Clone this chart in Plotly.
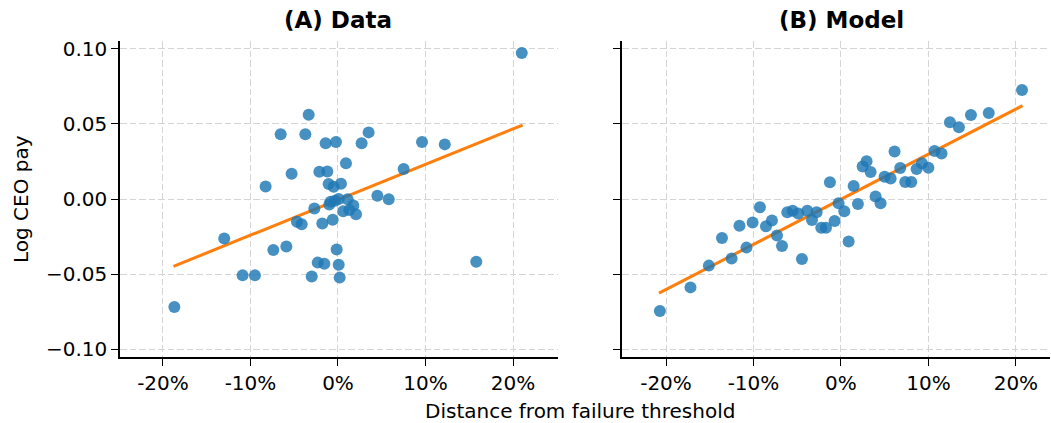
import plotly.graph_objects as go

# ---- data ----
data_x = [21.0, -3.35, -6.55, -3.73, -1.41, -0.23, 2.70, 3.50, 9.6, 12.2, 0.91, 7.5,
          -5.3, -2.13, -1.22, -8.27, -1.07, 0.34, -0.5, 4.5, 5.8, -0.84, -0.34, -0.99,
          0.08, 1.1, 1.75, 0.6, 1.3, 2.06, -2.7, -0.61, -1.79, -4.69, -4.15, -13.0,
          -7.39, -5.9, -0.15, -2.32, -1.56, 0.08, -10.9, -9.49, -3.0, 0.19, 15.8, -18.7]
data_y = [0.0973, 0.0562, 0.0431, 0.0431, 0.0371, 0.038, 0.0371, 0.0444, 0.038, 0.0364,
          0.0238, 0.020, 0.0169, 0.0182, 0.0184, 0.0084, 0.010, 0.0102, 0.0082, 0.0022,
          -0.0002, -0.0018, -0.0011, -0.0036, 0.0, -0.0002, -0.0044, -0.0082, -0.0073,
          -0.0102, -0.0064, -0.0138, -0.0164, -0.0151, -0.0169, -0.0264, -0.034, -0.0316,
          -0.0336, -0.0424, -0.0431, -0.0438, -0.0509, -0.0509, -0.0516, -0.0524, -0.0418,
          -0.072]
data_fit_x = [-18.8, 21.1]
data_fit_y = [-0.0449, 0.0493]

model_x = [20.7, 16.9, 14.86, 12.46, 13.49, 10.7, 11.5, 6.13, 9.26, 10.0, 8.65, 6.78,
           2.93, 2.48, 3.39, 4.99, 5.68, 7.35, 8.04, -1.26, 1.45, 3.96, 4.53, -0.27,
           1.94, -9.26, -6.13, -5.52, -4.88, -3.85, -2.78, -3.31, -2.25, -1.71, -0.72,
           0.38, 0.88, -4.46, -7.89, -8.57, -10.1, -11.6, -7.31, -6.74, -10.8, -13.6,
           -12.5, -15.1, -17.2, -20.7]
model_y = [0.0727, 0.0573, 0.056, 0.0511, 0.0478, 0.032, 0.0304, 0.0316, 0.0238, 0.0209,
           0.020, 0.0207, 0.0251, 0.0216, 0.018, 0.0149, 0.0136, 0.0113, 0.0113, 0.0111,
           0.0087, 0.0016, -0.0029, -0.0029, -0.0033, -0.0055, -0.0089, -0.0078, -0.0096,
           -0.0078, -0.0089, -0.014, -0.0191, -0.0191, -0.0147, -0.0082, -0.0284, -0.04,
           -0.0144, -0.0182, -0.0156, -0.0178, -0.0244, -0.0313, -0.0324, -0.026, -0.0396,
           -0.0444, -0.0589, -0.0747]
model_fit_x = [-20.8, 20.76]
model_fit_y = [-0.0627, 0.0622]

x_tickvals = [-20, -10, 0, 10, 20]
x_ticktext = ["-20%", "-10%", "0%", "10%", "20%"]
y_tickvals = [-0.10, -0.05, 0.0, 0.05, 0.10]
y_ticktext = ["\u22120.10", "\u22120.05", "0.00", "0.05", "0.10"]

panel_titles = ["(A) Data", "(B) Model"]
x_title = "Distance from failure threshold"
y_title = "Log CEO pay"

# ---- figure ----
W, H = 1051, 423
FONT = "DejaVu Sans"
BLUE = "rgba(31,119,180,0.82)"
ORANGE = "#ff7f0e"

fig = go.Figure()

for xs, ys, fx, fy, ax in [(data_x, data_y, data_fit_x, data_fit_y, ""),
                           (model_x, model_y, model_fit_x, model_fit_y, "2")]:
    fig.add_trace(go.Scatter(x=fx, y=fy, mode="lines",
                             line=dict(color=ORANGE, width=3),
                             xaxis="x" + ax, yaxis="y" + ax, showlegend=False))
    fig.add_trace(go.Scatter(x=xs, y=ys, mode="markers",
                             marker=dict(color=BLUE, size=12, line=dict(width=0)),
                             xaxis="x" + ax, yaxis="y" + ax, showlegend=False))

GRID = dict(showgrid=True, gridcolor="#d4d4d4", griddash="6.5px,3px", gridwidth=1.3)
common_x = dict(tickvals=x_tickvals, ticktext=x_ticktext, showline=True,
                linecolor="black", linewidth=1.5, ticks="outside", ticklen=7,
                tickwidth=1.3, tickcolor="black", zeroline=False, automargin=False,
                tickfont=dict(family=FONT, size=20, color="black"), **GRID)
common_y = dict(tickvals=y_tickvals, ticktext=y_ticktext, showline=True,
                linecolor="black", linewidth=1.5, ticks="outside", ticklen=7,
                tickwidth=1.3, tickcolor="black", zeroline=False, automargin=False,
                range=[-0.1053, 0.1053],
                tickfont=dict(family=FONT, size=20, color="black"), **GRID)

ydom = [1 - 357 / H, 1 - 41 / H]
fig.update_layout(
    width=W, height=H, margin=dict(l=0, r=0, t=0, b=0, autoexpand=False),
    paper_bgcolor="white", plot_bgcolor="white",
    font=dict(family=FONT, color="black"),
    xaxis=dict(domain=[120 / W, 558 / W], range=[-24.91, 25.14], anchor="y", **common_x),
    xaxis2=dict(domain=[622 / W, 1050 / W], range=[-25.03, 23.9], anchor="y2", **common_x),
    yaxis=dict(domain=ydom, anchor="x", showticklabels=True, **common_y),
    yaxis2=dict(domain=ydom, anchor="x2", showticklabels=False, **common_y),
    annotations=[
        dict(text="<b>" + panel_titles[0] + "</b>", x=338 / W, y=1 - 20 / H,
             xref="paper", yref="paper", xanchor="center", yanchor="middle",
             showarrow=False, font=dict(family=FONT, size=23, color="black")),
        dict(text="<b>" + panel_titles[1] + "</b>", x=841 / W, y=1 - 20 / H,
             xref="paper", yref="paper", xanchor="center", yanchor="middle",
             showarrow=False, font=dict(family=FONT, size=23, color="black")),
        dict(text=x_title, x=579.5 / W, y=1 - 411 / H, xref="paper", yref="paper",
             xanchor="center", yanchor="middle", showarrow=False,
             font=dict(family=FONT, size=20, color="black")),
        dict(text=y_title, x=21 / W, y=1 - 199 / H, xref="paper", yref="paper",
             xanchor="center", yanchor="middle", textangle=-90, showarrow=False,
             font=dict(family=FONT, size=20, color="black")),
    ],
)

fig.write_html("out.html")
